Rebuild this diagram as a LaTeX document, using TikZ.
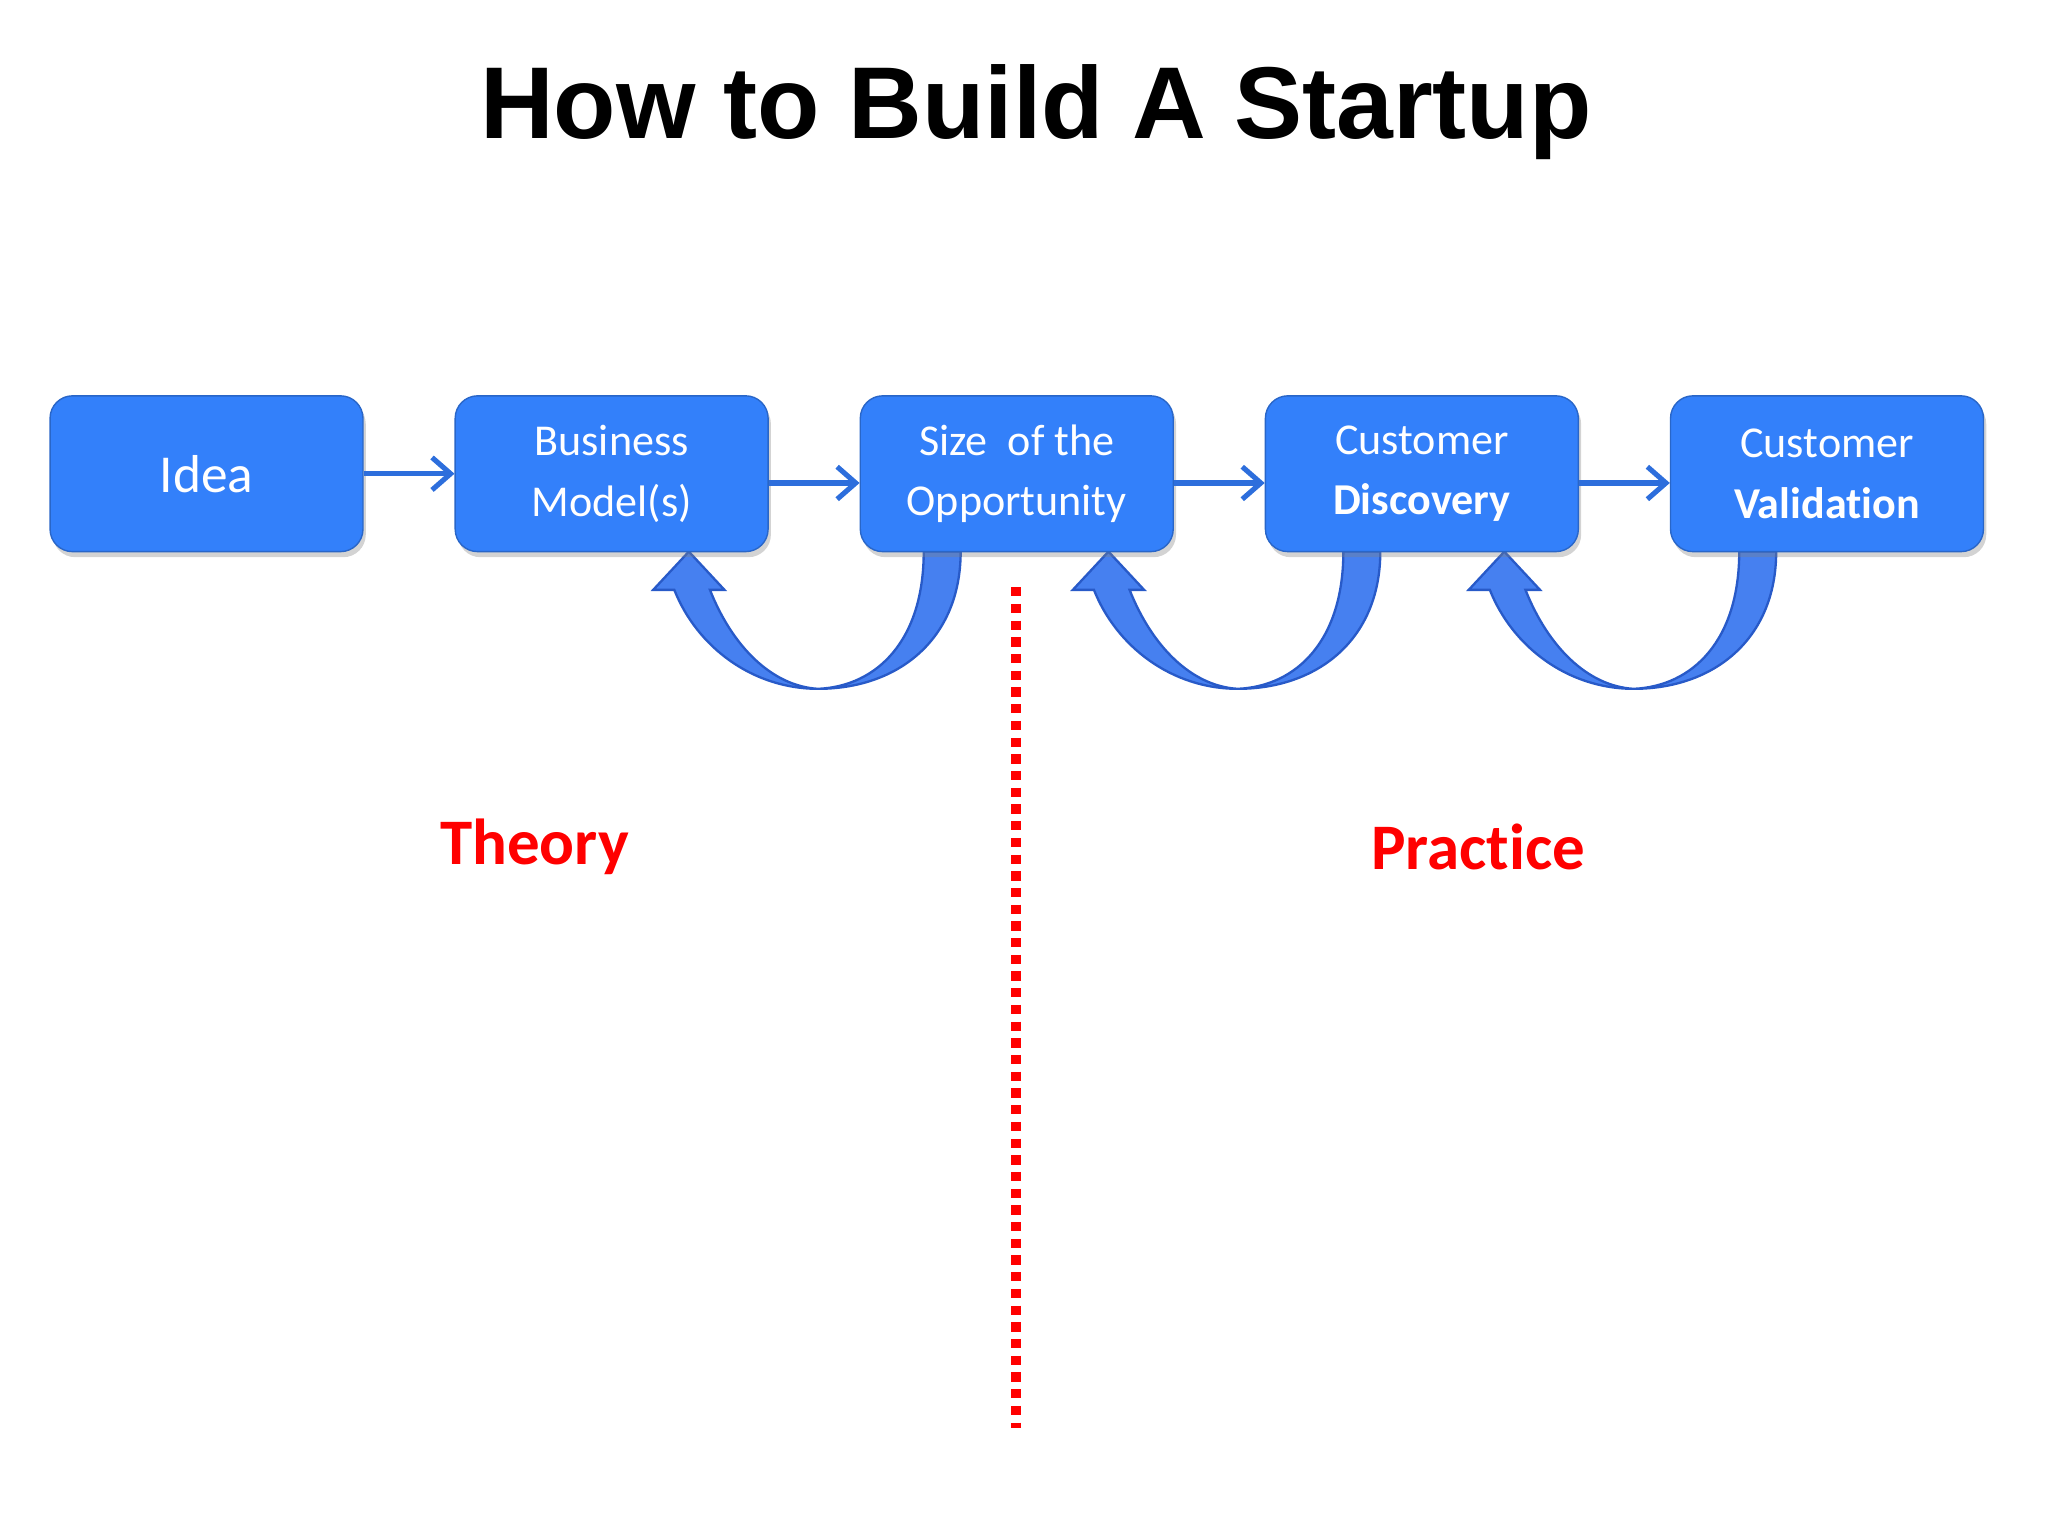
\documentclass[tikz,border=0pt]{standalone}
\usepackage{fontspec}
\setmainfont{Carlito}[Ligatures={NoCommon}]
\newfontfamily\titlefont{Liberation Sans}
\usetikzlibrary{arrows.meta,shadows}
\definecolor{boxblue}{RGB}{51,128,250}
\definecolor{arrblue}{RGB}{70,128,240}
\definecolor{arredge}{RGB}{40,90,200}
\definecolor{lnblue}{RGB}{45,110,220}
\tikzset{
 stepbox/.style={draw=boxblue!80!black,line width=0.3pt,fill=boxblue,rounded corners=0.17cm,minimum width=2.37cm,minimum height=1.18cm,text=white,align=center,font=\fontsize{9.5}{13}\selectfont,drop shadow={shadow xshift=0.6pt,shadow yshift=-1.2pt,opacity=0.35}},
 link/.style={draw=lnblue,line width=1.1pt,-{Straight Barb[length=4pt,width=7pt]}},
 curl/.style={fill=arrblue,draw=arredge,line width=0.5pt},
 lbl/.style={text=red,font=\fontsize{14}{17}\selectfont\bfseries}
}
\begin{document}
\begin{tikzpicture}[x=0.01cm,y=-0.01cm]
\useasboundingbox (0,0) rectangle (1552,1164);
\node[font=\titlefont\fontsize{22}{26}\selectfont\bfseries] (title) at (785,85) {How to Build A Startup};
\foreach \dx in {0,318,618}{
\begin{scope}[xshift=\dx*0.01cm]
\path[curl] (728,418) .. controls (728,485) and (680,522) .. (620,522)
 .. controls (570,522) and (528,490) .. (511,447)
 -- (495,447) -- (522,418) -- (549,447) -- (538,447)
 .. controls (555,490) and (585,520) .. (620,522)
 .. controls (665,520) and (700,485) .. (700,418) -- cycle;
\end{scope}}
\node[stepbox,font=\fontsize{11.5}{14}\selectfont] (a) at (156.5,359) {Idea};
\node[stepbox] (b) at (463.5,359) {Business\\Model(s)};
\node[stepbox] (c) at (770.5,359) {Size\ \ of the\\Opportunity};
\node[stepbox] (d) at (1077.5,359) {Customer\\\textbf{Discovery}};
\node[stepbox] (e) at (1384.5,359) {Customer\\\textbf{Validation}};
\draw[link] (a.east) -- (b.west);
\draw[link] ([yshift=-0.07cm]b.east) -- ([yshift=-0.07cm]c.west);
\draw[link] ([yshift=-0.07cm]c.east) -- ([yshift=-0.07cm]d.west);
\draw[link] ([yshift=-0.07cm]d.east) -- ([yshift=-0.07cm]e.west);
\coordinate (dtop) at (770,445);
\coordinate (dbot) at (770,1082);
\draw[red,line width=2.2pt,dash pattern=on 2pt off 1.6pt] (dtop) -- (dbot);
\node[lbl] (t) at (405,642) {Theory};
\node[lbl] (p) at (1120,642) {Practice};
\end{tikzpicture}
\end{document}
